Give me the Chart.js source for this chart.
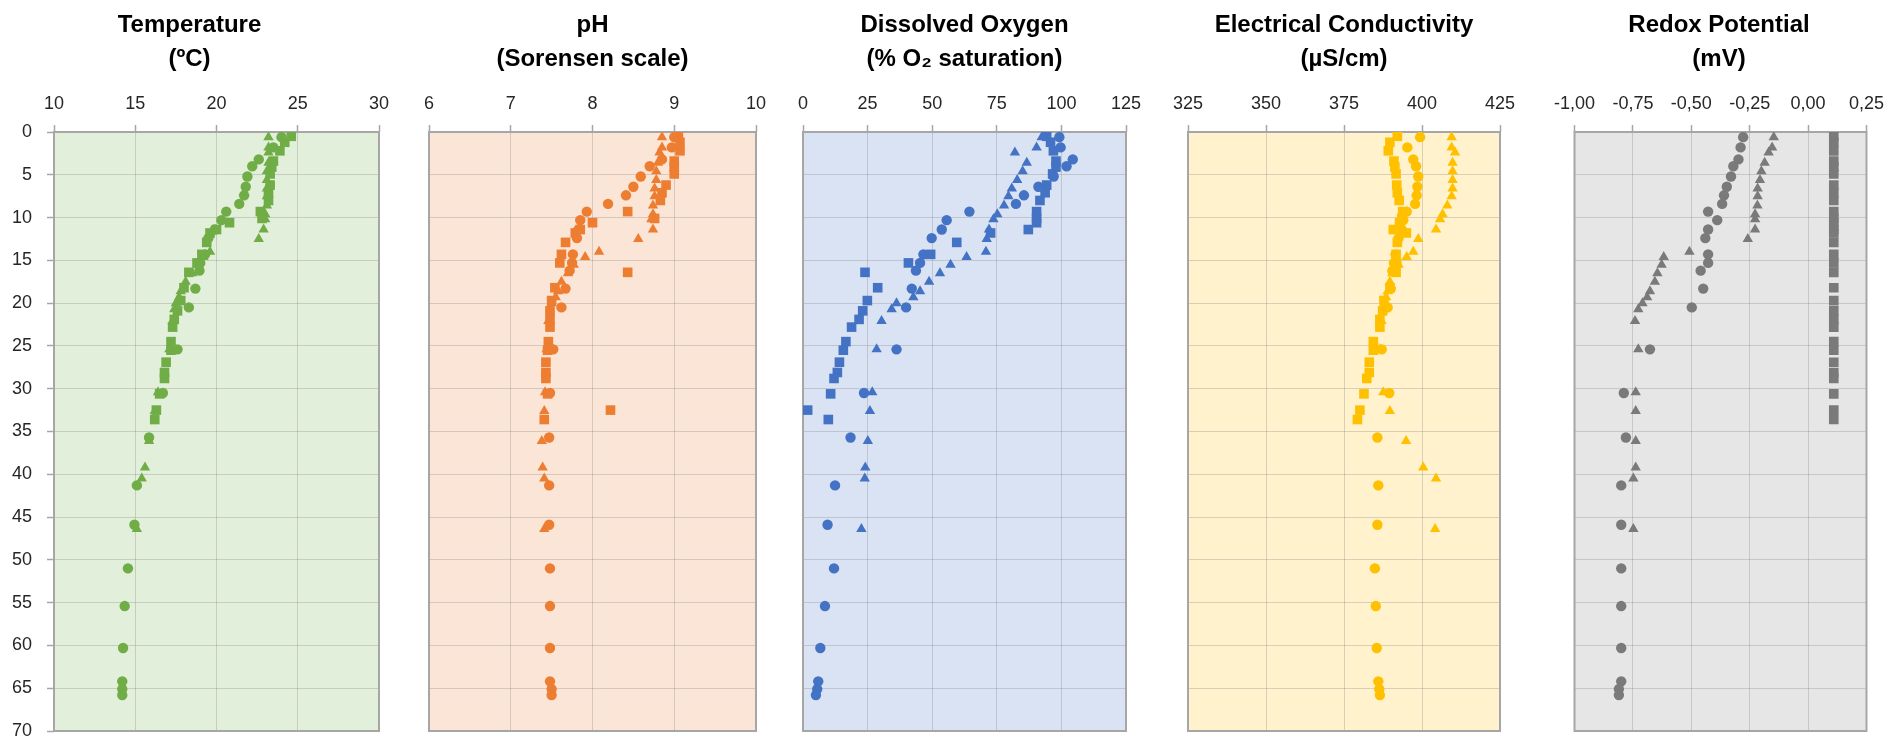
<!DOCTYPE html>
<html>
<head>
<meta charset="utf-8">
<title>Depth profiles</title>
<script src="https://cdn.jsdelivr.net/npm/chart.js@4.4.1/dist/chart.umd.min.js"></script>
<style>
  html, body { margin: 0; padding: 0; background: #fff; overflow: hidden; }
  #page { position: relative; width: 1894px; height: 739px; }
  .panel { position: absolute; top: 0; height: 739px; }
</style>
</head>
<body>
<div id="page"></div>
<script>
// Depths (m) of the three sampling series, shared by all five panels
const depthCircle = [0.6, 1.8, 3.2, 4.0, 5.2, 6.4, 7.4, 8.4, 9.3, 10.3, 11.4, 12.4, 14.3, 15.3, 16.2, 18.3, 20.5, 25.4,
    30.5, 35.7, 41.3, 45.9, 51.0, 55.4, 60.3, 64.2, 65.1, 65.8];
const depthSquare = [0.5, 1.2, 2.2, 3.4, 4.1, 4.9, 6.2, 7.1, 8.0, 9.3, 10.1, 10.6, 11.4, 11.8, 12.9, 14.3, 15.3, 16.4,
    18.2, 19.7, 20.9, 21.9, 22.8, 24.5, 25.5, 26.9, 28.1, 28.8, 30.6, 32.5, 33.6];
const depthTriangle = [0.6, 1.8, 2.4, 3.6, 4.6, 5.6, 6.6, 7.5, 8.6, 9.6, 10.2, 11.4, 12.5, 14.0, 14.6, 15.5, 16.5, 17.5,
    18.6, 19.3, 20.0, 20.7, 22.1, 25.4, 30.4, 32.6, 36.1, 39.2, 40.5, 46.4];

// Temperature (ºC)
const tempCircle = [24.0, 23.5, 22.6, 22.2, 21.9, 21.8, 21.7, 21.4, 20.6, 20.3, 19.9, 19.5, 19.3, 19.0, 18.95, 18.7, 18.3, 17.6,
    16.7, 15.85, 15.1, 14.95, 14.55, 14.35, 14.25, 14.2, 14.2, 14.2];
const tempSquare = [24.6, 24.2, 23.9, 23.5, 23.4, 23.3, 23.3, 23.2, 23.2, 22.7, 22.8, 20.8, 20.0, 19.6, 19.4, 19.1, 18.8, 18.3,
    18.0, 17.8, 17.6, 17.4, 17.3, 17.2, 17.2, 16.9, 16.8, 16.8, 16.5, 16.3, 16.2];
const tempTriangle = [23.2, 23.2, 23.2, 23.2, 23.1, 23.1, 23.1, 23.1, 23.1, 23.0, 23.0, 22.9, 22.6, 19.6, 19.2, 18.9, 18.5, 18.1,
    17.8, 17.7, 17.5, 17.4, 17.3, 17.1, 16.4, 16.2, 15.85, 15.6, 15.4, 15.1];

// pH
const phCircle = [9.0, 8.97, 8.85, 8.70, 8.59, 8.50, 8.41, 8.19, 7.93, 7.85, 7.83, 7.81, 7.76, 7.75, 7.72, 7.67, 7.62, 7.52,
    7.48, 7.47, 7.47, 7.47, 7.48, 7.48, 7.48, 7.48, 7.50, 7.50];
const phSquare = [9.05, 9.07, 9.07, 9.0, 9.0, 9.0, 8.9, 8.85, 8.83, 8.43, 8.76, 8.0, 7.85, 7.79, 7.67, 7.62, 7.60, 8.43,
    7.54, 7.50, 7.48, 7.48, 7.48, 7.46, 7.45, 7.43, 7.43, 7.43, 7.45, 8.22, 7.41];
const phTriangle = [8.85, 8.85, 8.82, 8.80, 8.78, 8.78, 8.76, 8.76, 8.74, 8.74, 8.72, 8.74, 8.56, 8.08, 7.91, 7.77, 7.70, 7.62,
    7.58, 7.55, 7.50, 7.48, 7.46, 7.44, 7.42, 7.41, 7.38, 7.39, 7.41, 7.41];

// Dissolved oxygen (% saturation)
const doCircle = [99.2, 99.7, 104.4, 102.0, 97.0, 91.1, 85.5, 82.4, 64.4, 55.6, 53.7, 49.8, 46.6, 45.3, 43.7, 42.1, 39.9, 36.2,
    23.6, 18.4, 12.4, 9.5, 12.0, 8.5, 6.7, 5.9, 5.5, 5.0];
const doSquare = [94.3, 95.8, 96.9, 97.9, 97.9, 96.6, 94.3, 93.7, 91.7, 90.4, 90.4, 90.4, 87.2, 72.6, 59.5, 49.4, 40.8, 24.0,
    28.9, 24.9, 23.1, 21.7, 18.8, 16.6, 15.6, 14.1, 13.3, 12.0, 10.7, 1.8, 9.8];
const doTriangle = [92.4, 90.4, 82.0, 86.6, 85.0, 82.9, 80.8, 79.5, 77.8, 75.2, 73.7, 72.0, 71.1, 70.8, 63.3, 57.1, 53.0, 48.8,
    45.3, 42.7, 36.2, 34.3, 30.4, 28.5, 26.8, 25.9, 25.1, 24.1, 23.9, 22.6];

// Electrical conductivity (µS/cm)
const ecCircle = [399.4, 395.3, 397.2, 398.1, 398.8, 398.5, 398.3, 397.8, 395.1, 394.0, 393.5, 392.5, 391.5, 391.0, 390.5, 390.0, 389.0, 387.1,
    389.5, 385.7, 386.0, 385.7, 384.9, 385.2, 385.5, 386.0, 386.3, 386.5];
const ecSquare = [392.1, 389.7, 389.2, 391.0, 391.3, 391.7, 391.9, 392.1, 392.7, 393.8, 393.5, 392.8, 390.8, 395.0, 392.1, 391.7, 391.9, 391.7,
    389.7, 387.8, 387.4, 386.5, 386.5, 384.4, 384.4, 383.1, 383.1, 382.3, 381.4, 380.1, 379.3];
const ecTriangle = [409.5, 409.5, 410.6, 409.8, 409.8, 409.8, 409.8, 409.5, 408.1, 406.6, 405.8, 404.5, 398.8, 397.2, 395.1, 392.5, 390.5, 389.7,
    389.0, 388.5, 388.0, 387.5, 387.0, 386.5, 387.6, 389.7, 394.9, 400.4, 404.5, 404.2];

// Redox potential (mV)
const rdCircle = [-0.278, -0.289, -0.298, -0.320, -0.330, -0.348, -0.360, -0.368, -0.428, -0.389, -0.428, -0.440, -0.428, -0.428, -0.460, -0.449, -0.498, -0.677,
    -0.789, -0.780, -0.800, -0.800, -0.800, -0.800, -0.800, -0.800, -0.810, -0.810];
const rdSquare = [0.11, 0.11, 0.11, 0.11, 0.11, 0.11, 0.11, 0.11, 0.11, 0.11, 0.11, 0.11, 0.11, 0.11, 0.11, 0.11, 0.11, 0.11,
    0.11, 0.11, 0.11, 0.11, 0.11, 0.11, 0.11, 0.11, 0.11, 0.11, 0.11, 0.11, 0.11];
const rdTriangle = [-0.147, -0.154, -0.169, -0.186, -0.200, -0.206, -0.216, -0.216, -0.217, -0.227, -0.227, -0.227, -0.258, -0.508, -0.618, -0.627, -0.645, -0.656,
    -0.677, -0.689, -0.709, -0.727, -0.741, -0.727, -0.738, -0.738, -0.738, -0.738, -0.748, -0.748];

// Panel titles and x axis ranges
const panelTitles = [
    ['Temperature', '(ºC)'],
    ['pH', '(Sorensen scale)'],
    ['Dissolved Oxygen', '(% O\u2082 saturation)'],
    ['Electrical Conductivity', '(µS/cm)'],
    ['Redox Potential', '(mV)']
];
const xMin = [10, 6, 0, 325, -1];
const xMax = [30, 10, 125, 425, 0.25];
const xStep = [5, 1, 25, 25, 0.25];
const depthMax = 70;
const depthStep = 5;

const panelValues = [
    [tempCircle, tempSquare, tempTriangle],
    [phCircle, phSquare, phTriangle],
    [doCircle, doSquare, doTriangle],
    [ecCircle, ecSquare, ecTriangle],
    [rdCircle, rdSquare, rdTriangle]
];

// Layout: canvas placement and paddings so plot areas line up with the reference
const panelLayout = [
    { left: 0, width: 412, yWidth: 54, padL: 0, padR: 33, bg: '#E2EFDA', color: '#70AD47' },
    { left: 404, width: 380, yWidth: 0, padL: 25, padR: 28, bg: '#FBE5D6', color: '#ED7D31' },
    { left: 777, width: 380, yWidth: 0, padL: 26, padR: 31, bg: '#DAE3F3', color: '#4472C4' },
    { left: 1159, width: 370, yWidth: 0, padL: 29, padR: 29, bg: '#FFF2CC', color: '#FFC000' },
    { left: 1544, width: 350, yWidth: 0, padL: 23, padR: 23, bg: '#E6E6E6', color: '#7A7A7A' }
];

const markers = [
    { style: 'circle', radius: 5.2 },
    { style: 'rect', radius: 6.8 },
    { style: 'triangle', radius: 6 }
];
const depthSets = [depthCircle, depthSquare, depthTriangle];

function fontAvailable(name) {
    const ctx = document.createElement('canvas').getContext('2d');
    const sample = 'mmmwwwlli 0123456789';
    ctx.font = '40px monospace';
    const w1 = ctx.measureText(sample).width;
    ctx.font = `40px "${name}", monospace`;
    const w2 = ctx.measureText(sample).width;
    return w1 !== w2;
}

const narrow = fontAvailable('Liberation Sans Narrow');
const tickFont = narrow
    ? { family: '"Liberation Sans Narrow", "Liberation Sans", sans-serif', size: 21 }
    : { family: '"Liberation Sans", Arial, sans-serif', size: 18 };

// Fills the plot background and draws the grey frame under the markers
const plotBox = {
    id: 'plotBox',
    beforeDraw(chart, args, opts) {
        const { ctx, chartArea: a } = chart;
        ctx.save();
        ctx.fillStyle = opts.bg;
        ctx.fillRect(a.left, a.top, a.right - a.left, a.bottom - a.top);
        ctx.restore();
    },
    beforeDatasetsDraw(chart) {
        const { ctx, chartArea: a } = chart;
        ctx.save();
        ctx.strokeStyle = '#A6A6A6';
        ctx.lineWidth = 2;
        ctx.strokeRect(a.left, a.top, a.right - a.left, a.bottom - a.top);
        ctx.restore();
    }
};

function buildDatasets(i) {
    return panelValues[i].map((values, s) => ({
        data: depthSets[s].map((d, k) => ({ x: values[k], y: d })).filter(p => p.x != null),
        pointStyle: markers[s].style,
        pointRadius: markers[s].radius,
        pointHoverRadius: markers[s].radius,
        backgroundColor: panelLayout[i].color,
        borderWidth: 0
    }));
}

function renderPanel(i) {
    const lay = panelLayout[i];
    const holder = document.createElement('div');
    holder.className = 'panel';
    holder.style.left = lay.left + 'px';
    holder.style.width = lay.width + 'px';
    const canvas = document.createElement('canvas');
    canvas.width = lay.width;
    canvas.height = 739;
    holder.appendChild(canvas);
    document.getElementById('page').appendChild(holder);

    const isRedox = i === 4;
    const gridStyle = {
        color: 'rgba(120,120,120,0.28)',
        lineWidth: 1,
        borderDash: [2, 2],
        tickColor: '#A6A6A6',
        tickWidth: 1.5,
        tickBorderDash: [],
        tickLength: 7
    };

    new Chart(canvas.getContext('2d'), {
        type: 'scatter',
        data: { datasets: buildDatasets(i) },
        plugins: [plotBox],
        options: {
            responsive: false,
            animation: false,
            devicePixelRatio: 1,
            layout: { padding: { left: lay.padL, right: lay.padR, top: 0, bottom: 8 } },
            plugins: {
                legend: { display: false },
                tooltip: { enabled: false },
                plotBox: { bg: lay.bg },
                title: {
                    display: true,
                    text: panelTitles[i],
                    color: '#000',
                    font: { family: '"Liberation Sans", Arial, sans-serif', size: 24, weight: 'bold', lineHeight: 34 / 24 },
                    padding: { top: 8, bottom: 0 }
                }
            },
            scales: {
                x: {
                    type: 'linear',
                    position: 'top',
                    min: xMin[i],
                    max: xMax[i],
                    border: { display: false },
                    grid: gridStyle,
                    ticks: {
                        stepSize: xStep[i],
                        autoSkip: false,
                        maxRotation: 0,
                        padding: 10,
                        color: '#262626',
                        font: tickFont,
                        callback: v => isRedox ? v.toFixed(2).replace('.', ',') : String(v)
                    },
                    afterFit: s => { s.height = 56; }
                },
                y: {
                    type: 'linear',
                    reverse: true,
                    min: 0,
                    max: depthMax,
                    border: { display: false },
                    grid: Object.assign({}, gridStyle, { drawTicks: lay.yWidth > 0 }),
                    ticks: {
                        display: lay.yWidth > 0,
                        stepSize: depthStep,
                        padding: 15,
                        color: '#262626',
                        font: tickFont
                    },
                    // fixed width, and no extra room for the end labels so all plot areas share one height
                    afterFit: s => {
                        s.width = lay.yWidth;
                        s.paddingTop = 0;
                        s.paddingBottom = 0;
                    }
                }
            }
        }
    });
}

panelTitles.forEach((t, i) => renderPanel(i));
</script>
</body>
</html>
